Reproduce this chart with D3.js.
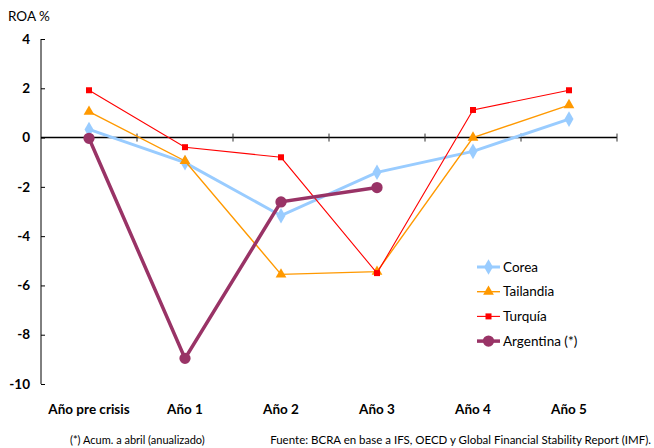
<!DOCTYPE html>
<html><head><meta charset="utf-8">
<script src="https://cdn.jsdelivr.net/npm/d3@7"></script>
<style>body{margin:0;background:#fff;} svg{display:block;font-family:"Lato","Open Sans",sans-serif;}</style>
</head><body>
<svg id="c" width="654" height="448"></svg>
<script>
const categories = ["Año pre crisis","Año 1","Año 2","Año 3","Año 4","Año 5"];
const corea = [0.33, -1.02, -3.17, -1.41, -0.56, 0.75];
const tailandia = [1.05, -0.95, -5.55, -5.44, 0.0, 1.32];
const turquia = [1.92, -0.39, -0.8, -5.5, 1.12, 1.92];
const argentina = [-0.03, -8.96, -2.61, -2.03];
const yTicks = [4, 2, 0, -2, -4, -6, -8, -10];

const svg = d3.select("#c");
const x = d3.scaleBand().domain(categories).range([41, 617]);
const y = d3.scaleLinear().domain([-10, 4]).range([384, 39]);

// y axis
const ya = svg.append("g").attr("transform","translate(41,0)")
  .call(d3.axisRight(y).tickValues(yTicks).tickSize(4).tickFormat(""));
ya.select(".domain").attr("d", `M0,${y(4)}V${y(-10)}`).attr("stroke","#000").attr("stroke-width",1);
ya.selectAll(".tick line").attr("stroke","#000");
svg.append("g").selectAll("text").data(yTicks).join("text")
  .attr("x", 30).attr("y", d => y(d)).attr("dy","0.35em").attr("text-anchor","end")
  .attr("font-weight","bold").attr("font-size",13.5).text(d => d);
svg.append("text").attr("x",8).attr("y",21).attr("font-size",13.5).text("ROA %");

// x axis at zero
const xa = svg.append("g").attr("transform",`translate(0,${y(0)})`)
  .call(d3.axisBottom(x).tickSize(0).tickFormat(""));
xa.select(".domain").attr("d", `M41,0H617`).attr("stroke","#000").attr("stroke-width",1.5);
xa.selectAll(".tick").remove();
const bounds = categories.map((c,i)=>x(c)).concat([617]).slice(1);
svg.append("g").selectAll("line").data(bounds).join("line")
  .attr("x1",d=>d).attr("x2",d=>d).attr("y1",y(0)-4).attr("y2",y(0)+4).attr("stroke","#333").attr("stroke-width",1);
svg.append("g").selectAll("text").data(categories).join("text")
  .attr("x", d => x(d)+x.bandwidth()/2).attr("y", 414).attr("text-anchor","middle")
  .attr("font-weight","bold").attr("font-size",13.5).text(d => d);

const cx = i => x(categories[i]) + x.bandwidth()/2;
const line = d3.line().x((d,i)=>cx(i)).y(d=>y(d));

const series = [
  {name:"Corea", data:corea, color:"#99CCFF", w:3, sym:d3.symbolDiamond, size:70},
  {name:"Tailandia", data:tailandia, color:"#FF9900", w:1.4, sym:d3.symbolTriangle, size:50},
  {name:"Turquía", data:turquia, color:"#FF0000", w:1.1, sym:d3.symbolSquare, size:36},
  {name:"Argentina (*)", data:argentina, color:"#993366", w:3.5, sym:d3.symbolCircle, size:100}
];
series.forEach(s => {
  svg.append("path").attr("d", line(s.data)).attr("fill","none").attr("stroke",s.color).attr("stroke-width",s.w);
  svg.append("g").selectAll("path").data(s.data).join("path")
    .attr("transform",(d,i)=>`translate(${cx(i)},${y(d)})`)
    .attr("d", d3.symbol().type(s.sym).size(s.size)).attr("fill",s.color);
});

// legend
const lg = svg.append("g");
series.forEach((s,i) => {
  const ly = 267 + i*24.7;
  lg.append("line").attr("x1",477).attr("x2",500).attr("y1",ly).attr("y2",ly).attr("stroke",s.color).attr("stroke-width",s.w);
  lg.append("path").attr("transform",`translate(488.5,${ly})`).attr("d",d3.symbol().type(s.sym).size(s.size)).attr("fill",s.color);
  lg.append("text").attr("x",503).attr("y",ly).attr("dy","0.35em").attr("font-size",13.5).text(s.name);
});

svg.append("text").attr("x",70).attr("y",444).attr("font-size",11).text("(*) Acum. a abril (anualizado)");
svg.append("text").attr("x",651).attr("y",444).attr("text-anchor","end").attr("font-size",11.5).text("Fuente: BCRA en base a IFS, OECD y Global Financial Stability Report (IMF).");
</script>
</body></html>
